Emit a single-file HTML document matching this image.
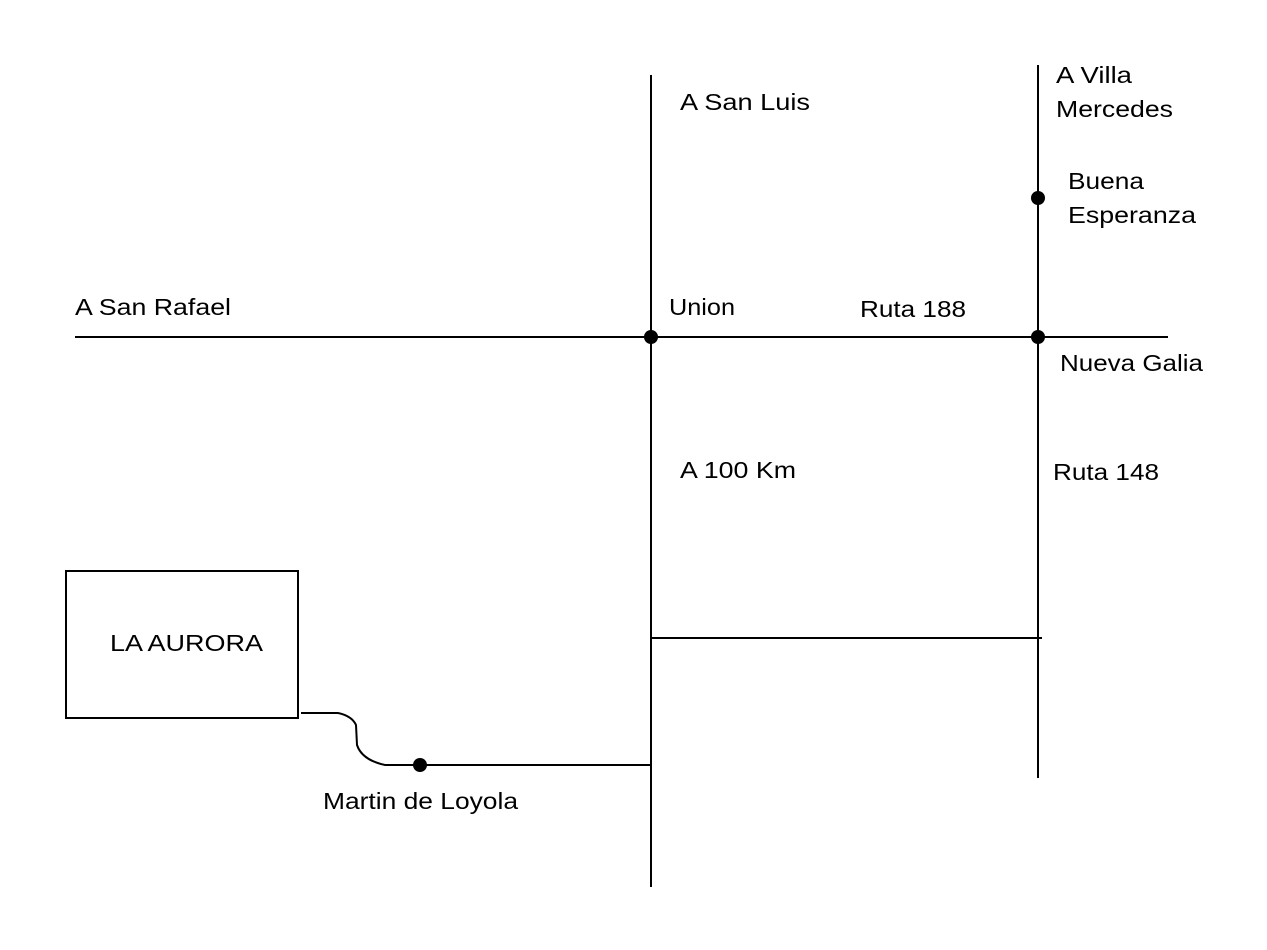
<!DOCTYPE html>
<html><head><meta charset="utf-8"><style>
html,body{margin:0;padding:0;background:#fff;}
svg{display:block;}
text{font-family:"Liberation Sans",sans-serif;font-size:23px;fill:#000;}
</style></head><body>
<svg width="1267" height="950" viewBox="0 0 1267 950" xmlns="http://www.w3.org/2000/svg">
<g stroke="#000" stroke-width="2" fill="none">
<line x1="75" y1="337" x2="1168" y2="337"/>
<line x1="651" y1="75" x2="651" y2="887"/>
<line x1="1038" y1="65" x2="1038" y2="778"/>
<line x1="651" y1="638" x2="1042" y2="638"/>
<line x1="420" y1="765" x2="651" y2="765"/>
<rect x="66" y="571" width="232" height="147"/>
<path d="M301 713 L338 713 Q352 716 356 725 L357 745 Q362 760 385 765 L420 765"/>
</g>
<g fill="#000">
<circle cx="651" cy="337" r="7"/>
<circle cx="1038" cy="337" r="7"/>
<circle cx="1038" cy="198" r="7"/>
<circle cx="420" cy="765" r="7"/>
</g>
<text x="680" y="110" textLength="130" lengthAdjust="spacingAndGlyphs">A San Luis</text>
<text x="1056" y="83" textLength="76" lengthAdjust="spacingAndGlyphs">A Villa</text>
<text x="1056" y="117" textLength="117" lengthAdjust="spacingAndGlyphs">Mercedes</text>
<text x="1068" y="189" textLength="76" lengthAdjust="spacingAndGlyphs">Buena</text>
<text x="1068" y="223" textLength="128" lengthAdjust="spacingAndGlyphs">Esperanza</text>
<text x="75" y="315" textLength="156" lengthAdjust="spacingAndGlyphs">A San Rafael</text>
<text x="669" y="315" textLength="66" lengthAdjust="spacingAndGlyphs">Union</text>
<text x="860" y="317" textLength="106" lengthAdjust="spacingAndGlyphs">Ruta 188</text>
<text x="1060" y="371" textLength="143" lengthAdjust="spacingAndGlyphs">Nueva Galia</text>
<text x="680" y="478" textLength="116" lengthAdjust="spacingAndGlyphs">A 100 Km</text>
<text x="1053" y="480" textLength="106" lengthAdjust="spacingAndGlyphs">Ruta 148</text>
<text x="110" y="651" textLength="153" lengthAdjust="spacingAndGlyphs">LA AURORA</text>
<text x="323" y="809" textLength="195" lengthAdjust="spacingAndGlyphs">Martin de Loyola</text>
</svg>
</body></html>
